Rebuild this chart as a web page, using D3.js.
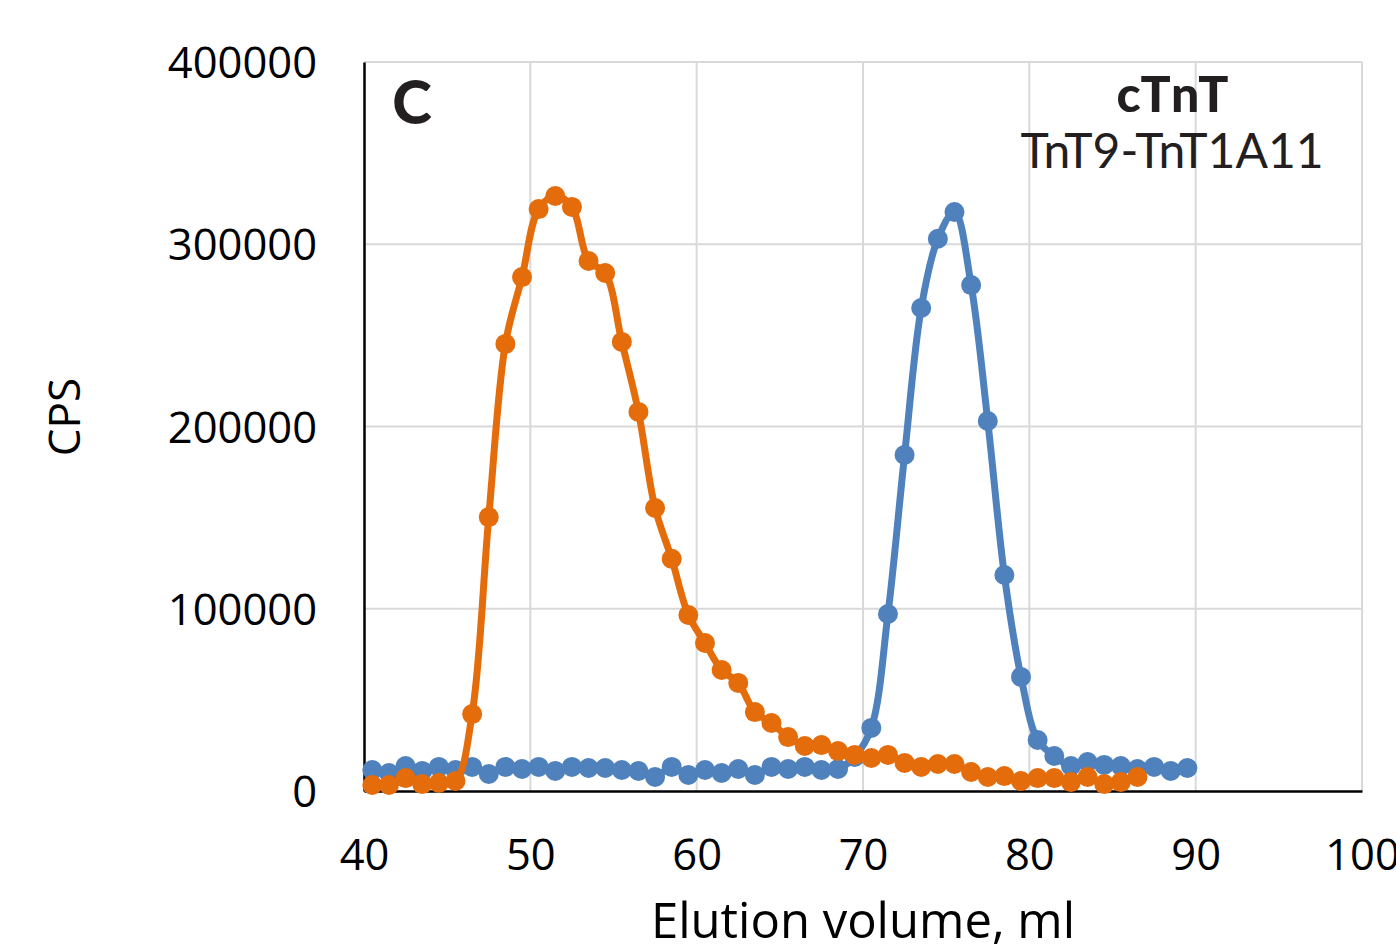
<!DOCTYPE html>
<html>
<head>
<meta charset="utf-8">
<script src="https://cdn.jsdelivr.net/npm/d3@7"></script>
<style>
html,body{margin:0;padding:0;background:#fff;overflow:hidden;}
svg{display:block;}
</style>
</head>
<body>
<svg id="chart" width="1396" height="944"></svg>
<script>
// ---- data ----
const orangeX = d3.range(40.5, 87, 1);
const orangeY = [3300, 3300, 7100, 3800, 4400, 5500, 42200, 150300, 245300, 282000, 319300, 326500, 320500, 290800, 284200, 246400, 208000, 155300, 127400, 96600, 81200, 66400, 59300, 43300, 37300, 29600, 24700, 25200, 21900, 19800, 18100, 19800, 15400, 13200, 14800, 14800, 10400, 7700, 8200, 5500, 7100, 7100, 4900, 7700, 3800, 4900, 7700];
const blueX = d3.range(40.5, 90, 1);
const blueY = [11500, 9900, 13700, 11000, 13200, 11500, 13200, 9300, 13200, 12100, 13200, 11000, 13200, 12600, 12600, 11500, 11000, 7700, 13200, 8800, 11500, 9900, 12100, 8800, 13200, 12100, 13200, 11500, 12100, 18700, 34600, 97100, 184400, 265000, 303000, 317700, 277600, 203000, 118500, 62600, 28000, 19200, 13700, 15900, 14300, 13700, 12100, 13200, 11000, 12600];
const xTicks = [40, 50, 60, 70, 80, 90, 100];
const yTicks = [0, 100000, 200000, 300000, 400000];
const panelLabel = "C";
const titleBold = "cTnT";
const titleSub = "TnT9-TnT1A11";
const xTitle = "Elution volume, ml";
const yTitle = "CPS";

// ---- layout ----
const svg = d3.select("#chart");
const pLeft = 364, pRight = 1362, pTop = 62, pBottom = 791;
const x = d3.scaleLinear().domain([40, 100]).range([pLeft, pRight]);
const y = d3.scaleLinear().domain([0, 400000]).range([pBottom, pTop]);

const fontTick = "'Open Sans', sans-serif";

// gridlines
const grid = svg.append("g");
grid.selectAll("line.h").data(yTicks.filter(d => d > 0)).enter().append("line")
  .attr("x1", pLeft).attr("x2", pRight).attr("y1", d => y(d)).attr("y2", d => y(d))
  .attr("stroke", "#d9d9d9").attr("stroke-width", 2);
grid.selectAll("line.v").data(xTicks.filter(d => d > 40)).enter().append("line")
  .attr("y1", pTop).attr("y2", pBottom).attr("x1", d => x(d)).attr("x2", d => x(d))
  .attr("stroke", "#d9d9d9").attr("stroke-width", 2);

// axes
const yAxis = d3.axisLeft(y).tickValues(yTicks).tickSize(0).tickPadding(47).tickFormat(d3.format("d"));
const gy = svg.append("g").attr("transform", `translate(${pLeft},0)`).call(yAxis);
gy.select(".domain").attr("stroke", "#000").attr("stroke-width", 2.5);
gy.selectAll("text").attr("font-family", fontTick).attr("font-size", 43.5).attr("fill", "#000").attr("dy", "0.36em");

const xAxis = d3.axisBottom(x).tickValues(xTicks).tickSize(0).tickPadding(63).tickFormat(d3.format("d"));
const gx = svg.append("g").attr("transform", `translate(0,${pBottom})`).call(xAxis);
gx.select(".domain").attr("stroke", "#000").attr("stroke-width", 2.5);
gx.selectAll("text").attr("font-family", fontTick).attr("font-size", 43.5).attr("fill", "#000").attr("dy", "0.36em");

// series
const line = d3.line().x(d => x(d[0])).y(d => y(d[1])).curve(d3.curveCatmullRom.alpha(0.5));
function drawSeries(xs, ys, color) {
  const pts = xs.map((v, i) => [v, ys[i]]);
  svg.append("path").datum(pts).attr("d", line).attr("fill", "none")
    .attr("stroke", color).attr("stroke-width", 7).attr("stroke-linejoin", "round").attr("stroke-linecap", "round");
  svg.append("g").selectAll("circle").data(pts).enter().append("circle")
    .attr("cx", d => x(d[0])).attr("cy", d => y(d[1])).attr("r", 10).attr("fill", color);
}
drawSeries(blueX, blueY, "#4f81bd");
drawSeries(orangeX, orangeY, "#e46c0a");

// texts
svg.append("text").attr("x", 412).attr("y", 124).attr("text-anchor", "middle")
  .attr("font-family", "Lato, sans-serif").attr("font-weight", 900).attr("font-size", 60)
  .attr("fill", "#231f20").text(panelLabel);
svg.append("text").attr("x", 1175).attr("y", 112).attr("text-anchor", "middle")
  .attr("font-family", "Lato, sans-serif").attr("font-weight", 900).attr("font-size", 50)
  .attr("letter-spacing", 5).attr("fill", "#231f20").text(titleBold);
svg.append("text").attr("x", 1172).attr("y", 168).attr("text-anchor", "middle")
  .attr("font-family", "Lato, sans-serif").attr("font-weight", 400).attr("font-size", 48)
  .attr("fill", "#231f20").text(titleSub);

svg.append("text").attr("x", x(70)).attr("y", 938).attr("text-anchor", "middle")
  .attr("font-family", fontTick).attr("font-size", 49).attr("fill", "#000").text(xTitle);
svg.append("text").attr("transform", "translate(80,417) rotate(-90)").attr("text-anchor", "middle")
  .attr("font-family", fontTick).attr("font-size", 44).attr("fill", "#000").text(yTitle);
</script>
</body>
</html>
